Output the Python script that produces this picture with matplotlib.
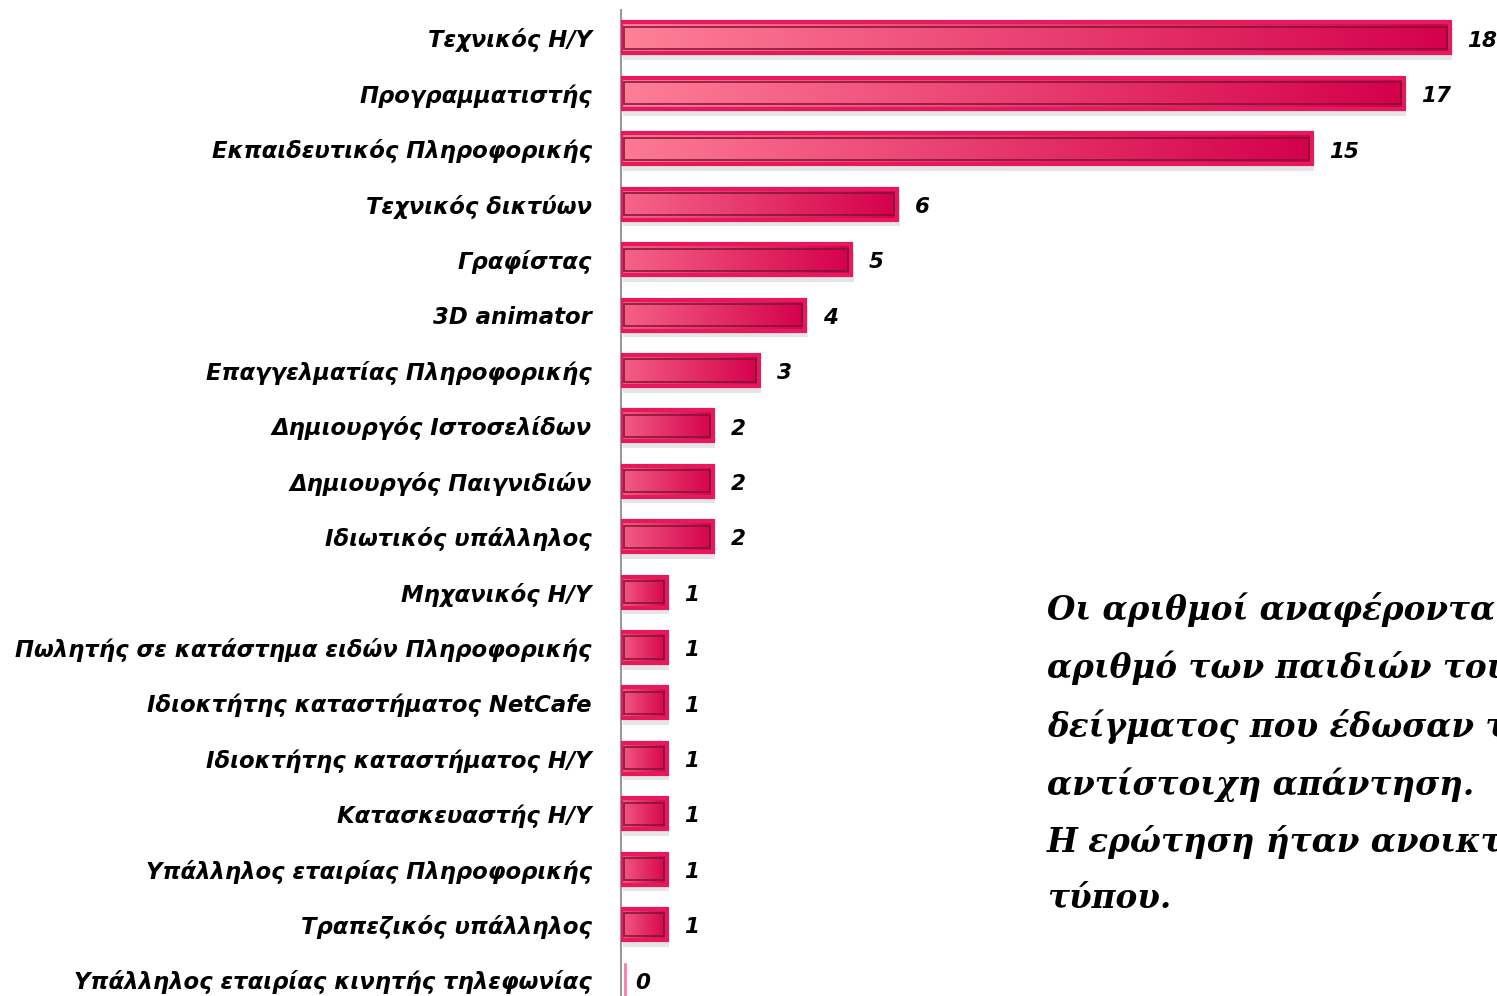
import matplotlib
matplotlib.use('Agg')
import matplotlib.pyplot as plt
import numpy as np
from matplotlib.patches import Rectangle

labels = [
    "Τεχνικός Η/Υ",
    "Προγραμματιστής",
    "Εκπαιδευτικός Πληροφορικής",
    "Τεχνικός δικτύων",
    "Γραφίστας",
    "3D animator",
    "Επαγγελματίας Πληροφορικής",
    "Δημιουργός Ιστοσελίδων",
    "Δημιουργός Παιγνιδιών",
    "Ιδιωτικός υπάλληλος",
    "Μηχανικός Η/Υ",
    "Πωλητής σε κατάστημα ειδών Πληροφορικής",
    "Ιδιοκτήτης καταστήματος NetCafe",
    "Ιδιοκτήτης καταστήματος Η/Υ",
    "Κατασκευαστής Η/Υ",
    "Υπάλληλος εταιρίας Πληροφορικής",
    "Τραπεζικός υπάλληλος",
    "Υπάλληλος εταιρίας κινητής τηλεφωνίας",
]
values = [18, 17, 15, 6, 5, 4, 3, 2, 2, 2, 1, 1, 1, 1, 1, 1, 1, 0]

note = ("Οι αριθμοί αναφέρονται στον\n"
        "αριθμό των παιδιών του\n"
        "δείγματος που έδωσαν την\n"
        "αντίστοιχη απάντηση.\n"
        "Η ερώτηση ήταν ανοικτού\n"
        "τύπου.")

fig = plt.figure(figsize=(14.97, 9.96), dpi=100)
ax = fig.add_axes([621 / 1497, 0, 876 / 1497, 986 / 996])

n = len(values)
ypos = np.arange(n)[::-1]
h = 0.56
light = np.array([255, 128, 152]) / 255
dark = np.array([212, 0, 76]) / 255
vmax = max(values)

for y, v in zip(ypos, values):
    if v == 0:
        ax.plot([0.08, 0.08], [y - h / 2, y + h / 2], color='#ff7aa0', lw=2, zorder=3)
        ax.text(0.3, y - 0.05, "0", va='center', ha='left', fontsize=15.5,
                fontweight='bold', fontstyle='italic')
        continue
    # shadow
    ax.add_patch(Rectangle((0.05, y - h / 2 - 0.12), v, h, facecolor='#000000',
                           alpha=0.10, edgecolor='none', zorder=1))
    # gradient fill, left colour a bit deeper for short bars
    left = light + (dark - light) * 0.3 * (1 - v / vmax)
    t = np.linspace(0, 1, 256)
    cols = left[None, :] + (dark - left)[None, :] * t[:, None]
    ax.imshow(cols[None, :, :], extent=(0, v, y - h / 2, y + h / 2), aspect='auto',
              interpolation='bilinear', zorder=2)
    ax.add_patch(Rectangle((0, y - h / 2), v, h, facecolor='none',
                           edgecolor='#e8185c', lw=3, zorder=3))
    ax.add_patch(Rectangle((0.07, y - h / 2 + 0.08), v - 0.14, h - 0.16,
                           facecolor='none', edgecolor='#7e1434', lw=1.3,
                           alpha=0.85, zorder=4))
    ax.text(v + 0.38, y - 0.05, str(v), va='center', ha='left', fontsize=15.5,
            fontweight='bold', fontstyle='italic')

ax.set_xlim(0, 19.02)
ax.set_ylim(-0.29, n - 1 + 0.505)
ax.set_yticks(ypos)
ax.set_yticklabels(labels, fontsize=16.4, fontweight='bold', fontstyle='italic')
ax.tick_params(axis='y', length=0, pad=21)
ax.set_xticks([])
for s in ['top', 'right', 'bottom']:
    ax.spines[s].set_visible(False)
ax.spines['left'].set_color('#999999')
ax.spines['left'].set_linewidth(1.5)

fig.text(1047 / 1497, 1 - 592 / 996, note, fontsize=23.5, family='DejaVu Serif',
         fontweight='bold', fontstyle='italic', va='top', ha='left',
         linespacing=1.85)

plt.savefig("out.png", dpi=100)
